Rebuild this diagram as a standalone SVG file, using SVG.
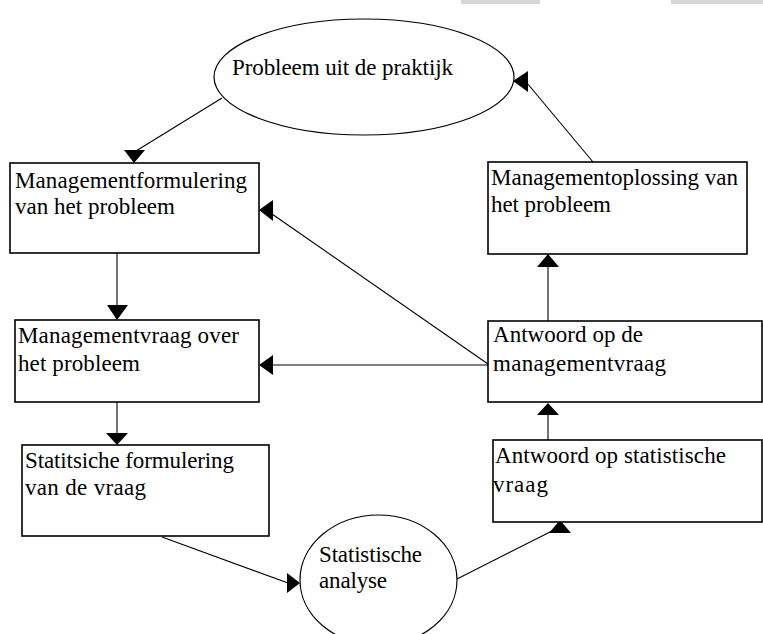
<svg xmlns="http://www.w3.org/2000/svg" width="763" height="634" viewBox="0 0 763 634">
<style>
.box{fill:#fff;stroke:#000;stroke-width:1.6}
.ell{fill:#fff;stroke:#000;stroke-width:1.2}
.ln{stroke:#000;stroke-width:1.1;fill:none}
.ah{fill:#000}
text{font-family:"Liberation Serif","Times New Roman",serif;font-size:23px;fill:#000}
</style>
<rect width="763" height="634" fill="#fff"/>
<rect x="461" y="0" width="79" height="4" fill="#d6d6d6"/>
<rect x="671" y="0" width="92" height="4" fill="#d6d6d6"/>
<g id="connectors">
<line class="ln" x1="222" y1="98" x2="136" y2="151"/>
<polygon class="ah" points="124,150 145,150 134,163"/>
<line class="ln" x1="593" y1="162" x2="527" y2="83"/>
<polygon class="ah" points="513,81 528,71 528,92"/>
<line class="ln" x1="117" y1="253" x2="117" y2="306"/>
<polygon class="ah" points="107,305 128,305 117,320"/>
<line class="ln" x1="117" y1="402" x2="117" y2="434"/>
<polygon class="ah" points="106,433 128,433 117,445"/>
<line class="ln" x1="162" y1="537" x2="288" y2="583"/>
<polygon class="ah" points="287,573 287,593 300,583"/>
<line class="ln" x1="457" y1="579" x2="552" y2="531"/>
<polygon class="ah" points="549,533 571,533 560,520"/>
<line class="ln" x1="548" y1="440" x2="548" y2="414"/>
<polygon class="ah" points="537,415 559,415 548,403"/>
<line class="ln" x1="548" y1="321" x2="548" y2="266"/>
<polygon class="ah" points="537,267 559,267 548,254"/>
<line class="ln" x1="488" y1="365" x2="272" y2="365"/>
<polygon class="ah" points="273,355 273,375 259,365"/>
<line class="ln" x1="488" y1="364" x2="272" y2="214"/>
<polygon class="ah" points="273,200 273,221 259,210"/>
</g>
<g id="n-probleem">
<ellipse class="ell" cx="364" cy="77" rx="150" ry="58"/>
<text x="232" y="75" textLength="221" lengthAdjust="spacing">Probleem uit de praktijk</text>
</g>
<g id="n-formulering">
<rect class="box" x="10" y="163" width="249" height="90"/>
<text x="15" y="188" textLength="232" lengthAdjust="spacing">Managementformulering</text>
<text x="15" y="214" textLength="160" lengthAdjust="spacing">van het probleem</text>
</g>
<g id="n-oplossing">
<rect class="box" x="488" y="162" width="259" height="92"/>
<text x="491" y="185" textLength="247" lengthAdjust="spacing">Managementoplossing van</text>
<text x="491" y="212" textLength="120" lengthAdjust="spacing">het probleem</text>
</g>
<g id="n-vraag">
<rect class="box" x="15" y="320" width="244" height="82"/>
<text x="18" y="343" textLength="221" lengthAdjust="spacing">Managementvraag over</text>
<text x="18" y="371" textLength="122" lengthAdjust="spacing">het probleem</text>
</g>
<g id="n-antwoord-mgmt">
<rect class="box" x="488" y="321" width="274" height="81"/>
<text x="493" y="342" textLength="150" lengthAdjust="spacing">Antwoord op de</text>
<text x="493" y="371" textLength="173" lengthAdjust="spacing">managementvraag</text>
</g>
<g id="n-stat-formulering">
<rect class="box" x="22" y="445" width="247" height="91"/>
<text x="25" y="468" textLength="209" lengthAdjust="spacing">Statitsiche formulering</text>
<text x="25" y="495" textLength="121" lengthAdjust="spacing">van de vraag</text>
</g>
<g id="n-antwoord-stat">
<rect class="box" x="493" y="440" width="269" height="82"/>
<text x="495" y="463" textLength="231" lengthAdjust="spacing">Antwoord op statistische</text>
<text x="493" y="492" textLength="55" lengthAdjust="spacing">vraag</text>
</g>
<g id="n-analyse">
<ellipse class="ell" cx="378.5" cy="580" rx="78.5" ry="65"/>
<text x="319" y="562" textLength="103" lengthAdjust="spacing">Statistische</text>
<text x="319" y="588" textLength="68" lengthAdjust="spacing">analyse</text>
</g>
</svg>
